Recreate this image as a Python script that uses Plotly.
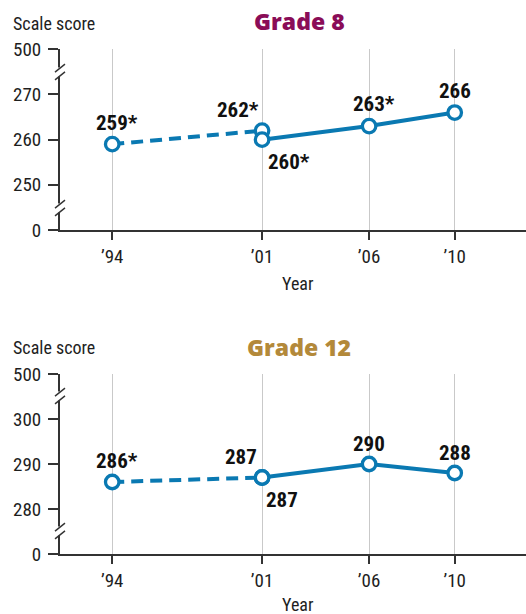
import plotly.graph_objects as go

# ---------------- data ----------------
years = [1994, 2001, 2006, 2010]
year_labels = ["’94", "’01", "’06", "’10"]

# Grade 8 (earlier-format segment dashed, later solid)
g8_prev_years = [1994, 2001]
g8_prev_vals = [259, 262]
g8_prev_text = ["259*", "262*"]
g8_curr_years = [2001, 2006, 2010]
g8_curr_vals = [260, 263, 266]
g8_curr_text = ["260*", "263*", "266"]

# Grade 12
g12_prev_years = [1994, 2001]
g12_prev_vals = [286, 287]
g12_prev_text = ["286*", "287"]
g12_curr_years = [2001, 2006, 2010]
g12_curr_vals = [287, 290, 288]
g12_curr_text = ["287", "290", "288"]

# broken-axis tick positions (axis units) and their labels
g8_tickvals = [240, 250, 260, 270, 280]
g8_ticktext = ["0", "250", "260", "270", "500"]
g12_tickvals = [270, 280, 290, 300, 310]
g12_ticktext = ["0", "280", "290", "300", "500"]

# ---------------- styling ----------------
W, H = 526, 614
BLUE = "#0A79B2"
AX = "#333333"
GRID = "#C9C9C9"
NARROW = "Roboto Condensed, DejaVu Sans Condensed, Roboto, sans-serif"
BOLDF = "Open Sans, Liberation Sans, Arial, sans-serif"
TXT = "#1e1e1e"


def px(x):
    return x / W


def py(y):
    return 1 - y / H


fig = go.Figure()

panels = [
    dict(xa="x", ya="y", prev=(g8_prev_years, g8_prev_vals, g8_prev_text),
         curr=(g8_curr_years, g8_curr_vals, g8_curr_text)),
    dict(xa="x2", ya="y2", prev=(g12_prev_years, g12_prev_vals, g12_prev_text),
         curr=(g12_curr_years, g12_curr_vals, g12_curr_text)),
]

marker = dict(size=13.5, color="white", line=dict(color=BLUE, width=3.3))
for p in panels:
    xs, ys, _ = p["prev"]
    fig.add_trace(go.Scatter(x=xs, y=ys, xaxis=p["xa"], yaxis=p["ya"], mode="lines",
                             line=dict(color=BLUE, width=4, dash="12px,7px"),
                             showlegend=False, hoverinfo="skip", cliponaxis=False))
    xs, ys, _ = p["curr"]
    fig.add_trace(go.Scatter(x=xs, y=ys, xaxis=p["xa"], yaxis=p["ya"], mode="lines",
                             line=dict(color=BLUE, width=4),
                             showlegend=False, hoverinfo="skip", cliponaxis=False))
    for key in ("prev", "curr"):
        xs, ys, _ = p[key]
        fig.add_trace(go.Scatter(x=xs, y=ys, xaxis=p["xa"], yaxis=p["ya"], mode="markers",
                                 marker=marker, showlegend=False, cliponaxis=False))

# data labels: offsets (xshift, yshift) per point
label_offsets = {
    "y": {"prev": [(5, 21), (-24, 21)], "curr": [(27, -22), (5, 22), (0, 22)]},
    "y2": {"prev": [(5, 21), (-21, 21)], "curr": [(20, -22), (0, 20), (0, 20)]},
}
annotations = []
for p in panels:
    for key in ("prev", "curr"):
        xs, ys, ts = p[key]
        for (xv, yv, tv), (dx, dy) in zip(zip(xs, ys, ts), label_offsets[p["ya"]][key]):
            annotations.append(dict(x=xv, y=yv, xref=p["xa"], yref=p["ya"], text=tv,
                                    showarrow=False, xshift=dx, yshift=dy,
                                    font=dict(family=NARROW, size=21, color="#111111",
                                              weight="bold")))

# titles and axis captions
for title, color, ty in [("Grade 8", "#8A0C57", 20.5), ("Grade 12", "#B3893A", 347)]:
    annotations.append(dict(x=px(299), y=py(ty), xref="paper", yref="paper", text=title,
                            showarrow=False, xanchor="center", yanchor="middle",
                            font=dict(family=BOLDF, size=23, color=color, weight=800)))
for ty in (23, 347):
    annotations.append(dict(x=px(11), y=py(ty), xref="paper", yref="paper", text="Scale score",
                            showarrow=False, xanchor="left", yanchor="middle",
                            font=dict(family=NARROW, size=18, color=TXT)))
for ty in (283, 604):
    annotations.append(dict(x=px(298), y=py(ty), xref="paper", yref="paper", text="Year",
                            showarrow=False, xanchor="center", yanchor="middle",
                            font=dict(family=NARROW, size=18, color=TXT)))

# axis-break marks
shapes = []
for cy in (72, 208, 396, 531):
    shapes.append(dict(type="rect", xref="paper", yref="paper",
                       x0=px(57), x1=px(63), y0=py(cy - 4.5), y1=py(cy + 4.5),
                       fillcolor="white", line=dict(width=0), layer="above"))
    for d in (-3.8, 3.8):
        shapes.append(dict(type="line", xref="paper", yref="paper",
                           x0=px(55), y0=py(cy + d + 4), x1=px(65), y1=py(cy + d - 4),
                           line=dict(color=AX, width=1.5), layer="above"))

xdom = [px(60), 1.0]
xrange_ = [1991.56, 2013.33]
xaxis_common = dict(domain=xdom, range=xrange_, tickvals=years, ticktext=year_labels,
                    showgrid=True, gridcolor=GRID, gridwidth=1, zeroline=False,
                    showline=True, linecolor=AX, linewidth=2,
                    ticks="outside", ticklen=8, tickwidth=1.5, tickcolor=AX,
                    tickfont=dict(family=NARROW, size=19, color=TXT),
                    automargin=False, fixedrange=True)
yaxis_common = dict(showgrid=False, zeroline=False, showline=True, linecolor=AX, linewidth=2,
                    ticks="outside", ticklen=10, tickwidth=1.5, tickcolor=AX,
                    tickfont=dict(family=NARROW, size=19, color=TXT),
                    ticklabelstandoff=3, automargin=False, fixedrange=True)

fig.update_layout(
    width=W, height=H, margin=dict(l=0, r=0, t=0, b=0, pad=0, autoexpand=False),
    paper_bgcolor="white", plot_bgcolor="white", showlegend=False,
    xaxis=dict(anchor="y", **xaxis_common),
    yaxis=dict(anchor="x", domain=[py(230), py(49.3)], range=[240, 280],
               tickvals=g8_tickvals, ticktext=g8_ticktext, **yaxis_common),
    xaxis2=dict(anchor="y2", **xaxis_common),
    yaxis2=dict(anchor="x2", domain=[py(554), py(374)], range=[270, 310],
                tickvals=g12_tickvals, ticktext=g12_ticktext, **yaxis_common),
    annotations=annotations, shapes=shapes,
)

fig.write_html("out.html", config={"displayModeBar": False},
               post_script="document.body.style.margin='0';document.body.style.overflow='hidden';")
